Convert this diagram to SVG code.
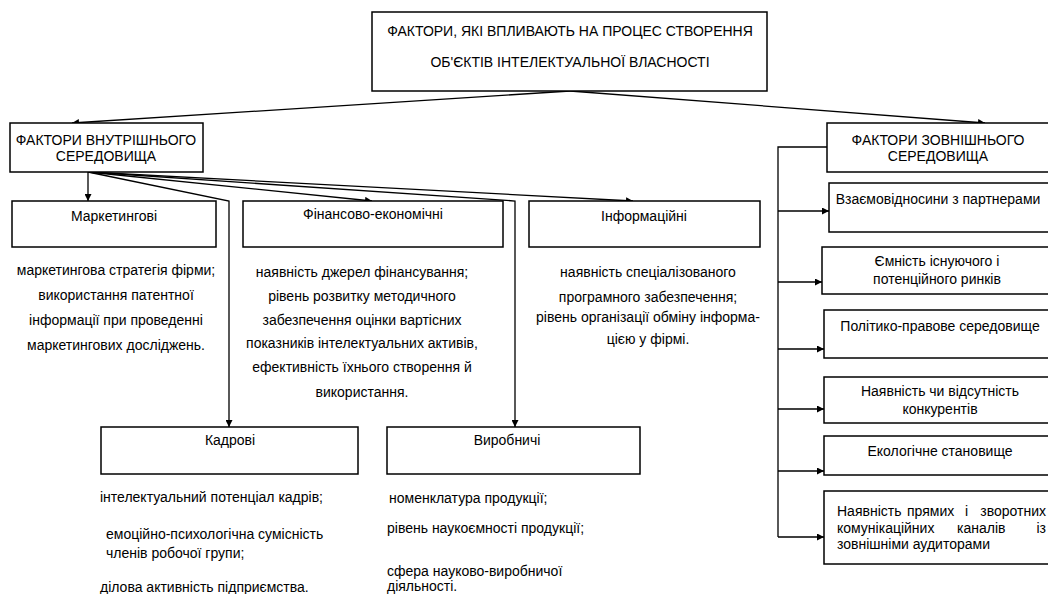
<svg xmlns="http://www.w3.org/2000/svg" width="1048" height="594" viewBox="0 0 1048 594">
<defs>
<marker id="ah" viewBox="0 0 10 10" refX="10" refY="5" markerWidth="7" markerHeight="7" markerUnits="userSpaceOnUse" orient="auto"><path d="M0,0 L10,5 L0,10 z" fill="#000"/></marker>
<style>
.box{fill:#fff;stroke:#000;stroke-width:1.5}
.t{font-family:"Liberation Sans",Arial,sans-serif;font-size:14px;fill:#000}
.c{text-anchor:middle}
.e{text-anchor:end}
.ln{fill:none;stroke:#000;stroke-width:1.3}
.ar{fill:none;stroke:#000;stroke-width:1.3;marker-end:url(#ah)}
</style>
</defs>
<rect width="1048" height="594" fill="#fff"/>
<g id="connectors">
<path class="ar" d="M570,91 L72,123"/>
<path class="ar" d="M570,91 L985,123"/>
<path class="ar" d="M88,172 L88,201"/>
<path class="ar" d="M88,172 L372,201"/>
<path class="ar" d="M88,172 L633,201"/>
<path class="ar" d="M88,172 L229,201 L229,427"/>
<path class="ar" d="M88,172 L515,201 L515,427"/>
<path class="ln" d="M827,147 L778,147 L778,537"/>
<path class="ar" d="M778,211 L829,211"/>
<path class="ar" d="M778,282 L822,282"/>
<path class="ar" d="M778,349 L824,349"/>
<path class="ar" d="M778,409 L824,409"/>
<path class="ar" d="M778,471 L824,471"/>
<path class="ar" d="M778,537 L824,537"/>
</g>
<g id="top"><rect class="box" x="372" y="12" width="395" height="79"/>
<text class="t c" x="570" y="36">ФАКТОРИ, ЯКІ ВПЛИВАЮТЬ НА ПРОЦЕС СТВОРЕННЯ</text>
<text class="t c" x="570" y="67">ОБ'ЄКТІВ ІНТЕЛЕКТУАЛЬНОЇ ВЛАСНОСТІ</text></g>
<g id="internal"><rect class="box" x="10" y="123" width="193" height="49"/>
<text class="t c" x="106" y="145">ФАКТОРИ ВНУТРІШНЬОГО</text>
<text class="t c" x="106" y="161">СЕРЕДОВИЩА</text></g>
<g id="external"><rect class="box" x="827" y="123" width="240" height="49"/>
<text class="t c" x="938" y="145">ФАКТОРИ ЗОВНІШНЬОГО</text>
<text class="t c" x="938" y="161">СЕРЕДОВИЩА</text></g>
<g id="marketing"><rect class="box" x="12" y="201" width="204" height="46"/>
<text class="t c" x="114" y="221">Маркетингові</text>
<text class="t c" x="116" y="275">маркетингова стратегія фірми;</text>
<text class="t c" x="116" y="300">використання патентної</text>
<text class="t c" x="116" y="325">інформації при проведенні</text>
<text class="t c" x="116" y="350">маркетингових досліджень.</text></g>
<g id="financial"><rect class="box" x="243" y="201" width="260" height="46"/>
<text class="t c" x="373" y="219">Фінансово-економічні</text>
<text class="t c" x="362" y="277">наявність джерел фінансування;</text>
<text class="t c" x="362" y="301">рівень розвитку методичного</text>
<text class="t c" x="362" y="325">забезпечення оцінки вартісних</text>
<text class="t c" x="362" y="348">показників інтелектуальних активів,</text>
<text class="t c" x="362" y="372">ефективність їхнього створення й</text>
<text class="t c" x="362" y="397">використання.</text></g>
<g id="info"><rect class="box" x="529" y="201" width="231" height="46"/>
<text class="t c" x="644" y="221">Інформаційні</text>
<text class="t c" x="648" y="277">наявність спеціалізованого</text>
<text class="t c" x="648" y="302">програмного забезпечення;</text>
<text class="t c" x="648" y="322">рівень організації обміну інформа-</text>
<text class="t c" x="648" y="344">цією у фірмі.</text></g>
<g id="kadrovi"><rect class="box" x="101" y="427" width="257" height="47"/>
<text class="t c" x="230" y="445">Кадрові</text>
<text class="t" x="100" y="502">інтелектуальний потенціал кадрів;</text>
<text class="t" x="106" y="539">емоційно-психологічна сумісність</text>
<text class="t" x="106" y="558">членів робочої групи;</text>
<text class="t" x="100" y="592">ділова активність підприємства.</text></g>
<g id="vyrobnychi"><rect class="box" x="387" y="427" width="253" height="47"/>
<text class="t c" x="507" y="445">Виробничі</text>
<text class="t" x="389" y="503">номенклатура продукції;</text>
<text class="t" x="387" y="533">рівень наукоємності продукції;</text>
<text class="t" x="387" y="576">сфера науково-виробничої</text>
<text class="t" x="387" y="591">діяльності.</text></g>
<g id="partners"><rect class="box" x="829" y="183" width="240" height="49"/>
<text class="t c" x="938" y="204">Взаємовідносини з партнерами</text></g>
<g id="market"><rect class="box" x="822" y="247" width="245" height="47"/>
<text class="t c" x="937" y="266">Ємність існуючого і</text>
<text class="t c" x="937" y="284">потенційного ринків</text></g>
<g id="political"><rect class="box" x="824" y="310" width="245" height="48"/>
<text class="t c" x="940" y="331">Політико-правове середовище</text></g>
<g id="competitors"><rect class="box" x="824" y="377" width="245" height="46"/>
<text class="t c" x="940" y="396">Наявність чи відсутність</text>
<text class="t c" x="940" y="414">конкурентів</text></g>
<g id="ecology"><rect class="box" x="824" y="436" width="245" height="39"/>
<text class="t c" x="940" y="456">Екологічне становище</text></g>
<g id="channels"><rect class="box" x="824" y="491" width="245" height="73"/>
<text class="t" x="837" y="516">Наявність</text>
<text class="t" x="907" y="516">прямих</text>
<text class="t" x="965" y="516">і</text>
<text class="t e" x="1046" y="516">зворотних</text>
<text class="t" x="837" y="533">комунікаційних</text>
<text class="t" x="957" y="533">каналів</text>
<text class="t e" x="1046" y="533">із</text>
<text class="t" x="837" y="549">зовнішніми аудиторами</text></g>
</svg>
